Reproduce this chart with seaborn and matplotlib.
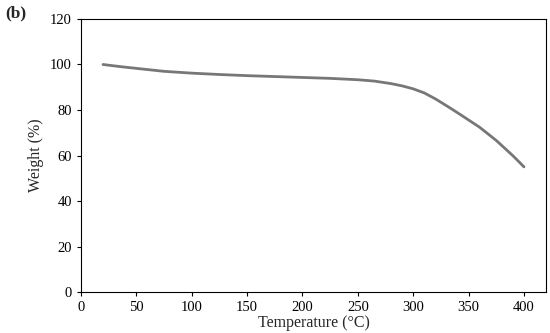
import seaborn as sns
import matplotlib.pyplot as plt
import pandas as pd

temperature = [20, 35, 50, 75, 100, 125, 150, 175, 200, 225, 250, 265, 280,
               290, 300, 310, 320, 330, 340, 350, 360, 375, 390, 400]
weight = [100, 99.1, 98.3, 97.0, 96.2, 95.6, 95.1, 94.7, 94.3, 93.9, 93.3, 92.7, 91.6,
          90.6, 89.3, 87.5, 84.9, 81.9, 78.8, 75.6, 72.4, 66.6, 59.9, 55.0]

sns.set_style('ticks')
plt.rcParams['font.family'] = ['Liberation Serif', 'DejaVu Serif']

df = pd.DataFrame({'Temperature': temperature, 'Weight': weight})

fig = plt.figure(figsize=(5.5, 3.33), dpi=100)
ax = fig.add_axes([0.147, 0.123, 0.846, 0.820])
sns.lineplot(data=df, x='Temperature', y='Weight', color='#777777', linewidth=2, ax=ax)

ax.set_xlim(0, 420)
ax.set_ylim(0, 120)
ax.set_xticks(range(0, 401, 50))
ax.set_yticks(range(0, 121, 20))
ax.tick_params(labelsize=10.5, length=3, width=0.8, colors='black', direction='out')
for s in ax.spines.values():
    s.set_color('black')
    s.set_linewidth(0.8)
ax.set_xlabel('Temperature (°C)', fontsize=11.5, labelpad=1)
ax.set_ylabel('Weight (%)', fontsize=11.5, labelpad=4)
fig.text(0.01, 0.985, '(b)', fontsize=12.5, fontweight='bold', va='top', ha='left')

plt.savefig('out.png', dpi=100)
